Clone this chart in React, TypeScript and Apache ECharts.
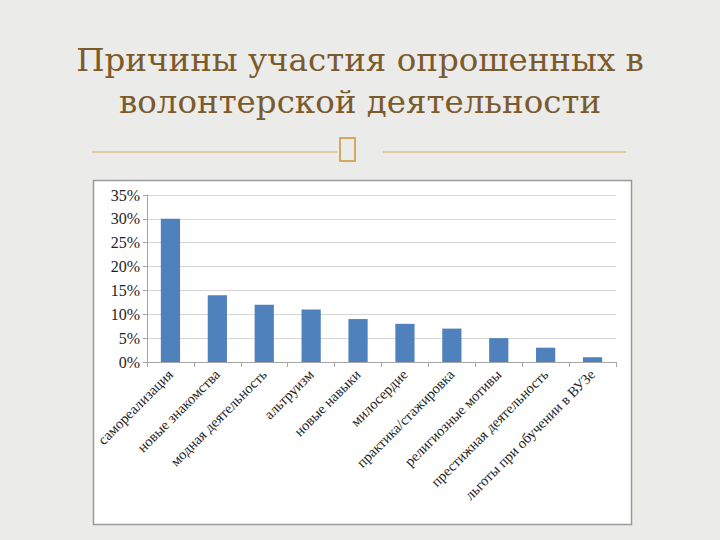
import React, { useEffect, useRef } from "react";
import * as echarts from "echarts";

const titleLines = ["Причины участия опрошенных в", "волонтерской деятельности"];
const categories = [
  "самореализация",
  "новые знакомства",
  "модная деятельность",
  "альтруизм",
  "новые навыки",
  "милосердие",
  "практика/стажировка",
  "религиозные мотивы",
  "престижная деятельность",
  "льготы при обучении в ВУЗе",
];
const values = [30, 14, 12, 11, 9, 8, 7, 5, 3, 1];
const yTicks = { min: 0, max: 35, interval: 5 };

export default function App() {
  const ref = useRef<HTMLDivElement>(null);
  useEffect(() => {
    const chart = echarts.init(ref.current!, null, { renderer: "svg" });
    const gold = "#d6a85e";
    chart.setOption({
      animation: false,
      backgroundColor: "#ebebe9",
      title: {
        text: titleLines.join("\n"),
        left: "center",
        top: 34,
        textStyle: {
          fontFamily: "DejaVu Serif",
          fontWeight: "normal",
          fontSize: 32.5,
          lineHeight: 42,
          color: "#7b5a2c",
        },
      },
      graphic: [
        { type: "line", shape: { x1: 92, y1: 152, x2: 337, y2: 152 }, style: { stroke: gold, lineWidth: 1.2 } },
        { type: "line", shape: { x1: 383, y1: 152, x2: 626, y2: 152 }, style: { stroke: gold, lineWidth: 1.2 } },
        { type: "rect", shape: { x: 340, y: 138, width: 15, height: 23 }, style: { fill: "none", stroke: gold, lineWidth: 2 } },
        {
          type: "rect",
          z: -10,
          shape: { x: 93.5, y: 180.5, width: 538, height: 344 },
          style: { fill: "#ffffff", stroke: "#9a9a9a", lineWidth: 1.5 },
        },
      ],
      grid: { left: 147, right: 104, top: 195, bottom: 178, containLabel: false },
      xAxis: {
        type: "category",
        data: categories,
        axisLine: { lineStyle: { color: "#a6a6a6" } },
        axisTick: { show: true, alignWithLabel: false, length: 5, lineStyle: { color: "#a6a6a6" } },
        axisLabel: {
          rotate: 45,
          interval: 0,
          margin: 10,
          fontFamily: "Liberation Serif",
          fontSize: 14.5,
          color: "#222",
        },
      },
      yAxis: {
        type: "value",
        min: yTicks.min,
        max: yTicks.max,
        interval: yTicks.interval,
        axisLine: { show: true, lineStyle: { color: "#a6a6a6" } },
        axisTick: { show: true, length: 4, lineStyle: { color: "#a6a6a6" } },
        splitLine: { lineStyle: { color: "#d6d6d6" } },
        axisLabel: {
          formatter: "{value}%",
          fontFamily: "Liberation Serif",
          fontSize: 16,
          color: "#222",
          margin: 7,
        },
      },
      series: [
        {
          type: "bar",
          data: values,
          barWidth: "41%",
          itemStyle: { color: "#4f81bd" },
        },
      ],
    });
    return () => chart.dispose();
  }, []);
  return (
    <div
      ref={ref}
      style={{ position: "fixed", left: 0, top: 0, width: 720, height: 540 }}
    />
  );
}
